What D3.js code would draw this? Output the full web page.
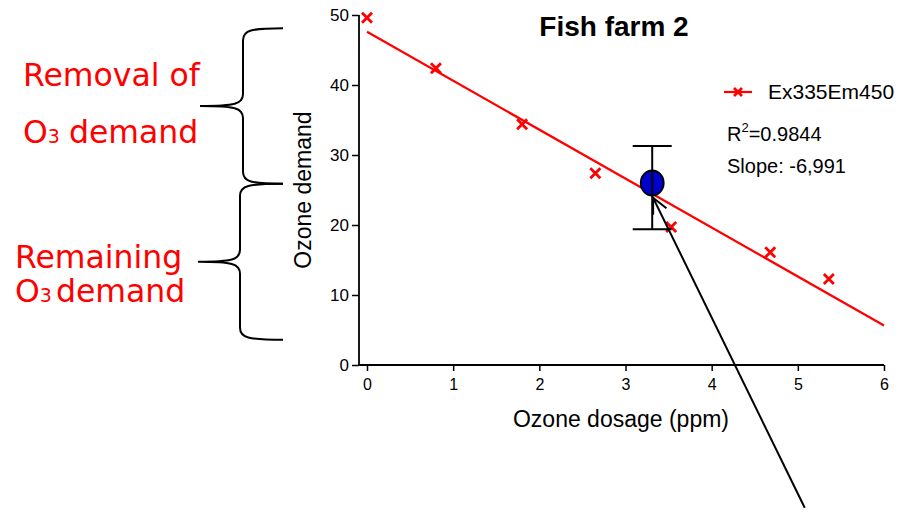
<!DOCTYPE html>
<html>
<head>
<meta charset="utf-8">
<script src="https://cdn.jsdelivr.net/npm/d3@7"></script>
<style>
  body { margin: 0; background: #fff; }
  svg { display: block; }
</style>
</head>
<body>
<div class="chart"></div>
<script>
// measured points (Ex335Em450)
var dosage = [0, 0.8, 1.8, 2.65, 3.53, 4.68, 5.36];
var demand = [49.6, 42.4, 34.4, 27.4, 19.7, 16.1, 12.3];
// linear fit
var fitIntercept = 47.6;
var fitSlope = -6.991;
var fitRange = [0, 6];
// highlighted point with error bar
var markDose = 3.31;
var markDemand = 26.0;
var markErr = [19.4, 31.3];
// arrow (data units)
var arrowFrom = [5.08, -20.4];
var arrowTo = [3.32, 23.9];
// braces (data units of ozone demand)
var braceRanges = [[48.1, 25.9], [25.9, 3.6]];
var xTicks = [0, 1, 2, 3, 4, 5, 6];
var yTicks = [0, 10, 20, 30, 40, 50];
var legendLabel = "Ex335Em450";
var r2Text = "0.9844";
var slopeText = "Slope: -6,991";

var width = 907, height = 512;
var red = "#ff0000";
var font = "'Liberation Sans', Arial, sans-serif";

var svg = d3.select(".chart").append("svg")
  .attr("width", width).attr("height", height);
svg.append("rect").attr("width", width).attr("height", height).attr("fill", "#fff");

var xScale = d3.scaleLinear().domain([0, 6]).range([367, 884]);
var yScale = d3.scaleLinear().domain([0, 50]).range([365, 15]);
var axisX0 = 359;

// axes
var gy = svg.append("g")
  .attr("transform", "translate(" + axisX0 + ",0)")
  .call(d3.axisLeft(yScale).tickValues(yTicks).tickFormat(d3.format("d"))
    .tickSize(7).tickPadding(3).tickSizeOuter(0));
var gx = svg.append("g")
  .attr("transform", "translate(0," + yScale(0) + ")")
  .call(d3.axisBottom(xScale).tickValues(xTicks).tickFormat(d3.format("d"))
    .tickSize(6).tickPadding(8).tickSizeOuter(0));
[gx, gy].forEach(function (g) {
  g.select(".domain").remove();
  g.selectAll("line").attr("stroke", "#000").attr("stroke-width", 1.5);
  g.selectAll("text").attr("fill", "#000").style("font-family", font);
});
gy.selectAll("text").style("font-size", "17px");
gx.selectAll("text").style("font-size", "16px");

svg.append("line")
  .attr("x1", axisX0).attr("x2", axisX0)
  .attr("y1", yScale(0)).attr("y2", yScale(50))
  .attr("stroke", "#000").attr("stroke-width", 1.8);
svg.append("line")
  .attr("x1", axisX0).attr("x2", xScale(6))
  .attr("y1", yScale(0)).attr("y2", yScale(0))
  .attr("stroke", "#000").attr("stroke-width", 1.8);

// fit line
svg.append("line")
  .attr("x1", xScale(fitRange[0])).attr("y1", yScale(fitIntercept + fitSlope * fitRange[0]))
  .attr("x2", xScale(fitRange[1])).attr("y2", yScale(fitIntercept + fitSlope * fitRange[1]))
  .attr("stroke", red).attr("stroke-width", 2.2);

// x markers
function cross(sel, s) {
  sel.append("path")
    .attr("d", "M" + (-s) + "," + (-s) + "L" + s + "," + s + "M" + (-s) + "," + s + "L" + s + "," + (-s))
    .attr("stroke", red).attr("stroke-width", 2.8).attr("fill", "none");
}
var pts = svg.selectAll(".pt").data(dosage.map(function (d, i) { return [d, demand[i]]; }))
  .enter().append("g").attr("class", "pt")
  .attr("transform", function (d) { return "translate(" + xScale(d[0]) + "," + yScale(d[1]) + ")"; });
pts.each(function () { cross(d3.select(this), 5); });

// highlighted point
svg.append("ellipse")
  .attr("cx", xScale(markDose)).attr("cy", yScale(markDemand))
  .attr("rx", 11.5).attr("ry", 12.5)
  .attr("fill", "#0000cc").attr("stroke", "#000").attr("stroke-width", 1.8);
svg.append("line")
  .attr("x1", xScale(markDose)).attr("x2", xScale(markDose))
  .attr("y1", yScale(markErr[0])).attr("y2", yScale(markErr[1]))
  .attr("stroke", "#000").attr("stroke-width", 2);
markErr.forEach(function (v) {
  svg.append("line")
    .attr("x1", xScale(markDose) - 19.5).attr("x2", xScale(markDose) + 19.5)
    .attr("y1", yScale(v)).attr("y2", yScale(v))
    .attr("stroke", "#000").attr("stroke-width", 2);
});

// arrow
var ax1 = xScale(arrowFrom[0]), ay1 = yScale(arrowFrom[1]);
var ax2 = xScale(arrowTo[0]), ay2 = yScale(arrowTo[1]);
svg.append("line")
  .attr("x1", ax1).attr("y1", ay1).attr("x2", ax2).attr("y2", ay2)
  .attr("stroke", "#000").attr("stroke-width", 2);
var ang = Math.atan2(ay1 - ay2, ax1 - ax2);
var headLen = 17, spread = 0.45;
svg.append("path")
  .attr("d", "M" + (ax2 + headLen * Math.cos(ang - spread)) + "," + (ay2 + headLen * Math.sin(ang - spread)) +
    "L" + ax2 + "," + ay2 +
    "L" + (ax2 + headLen * Math.cos(ang + spread)) + "," + (ay2 + headLen * Math.sin(ang + spread)))
  .attr("stroke", "#000").attr("stroke-width", 2).attr("fill", "none");

// title
svg.append("text").attr("x", 614).attr("y", 36)
  .attr("text-anchor", "middle")
  .style("font-family", font).style("font-size", "28px").style("font-weight", "bold")
  .text("Fish farm 2");

// axis titles
svg.append("text").attr("x", 621).attr("y", 427)
  .attr("text-anchor", "middle")
  .style("font-family", font).style("font-size", "23px")
  .text("Ozone dosage (ppm)");
svg.append("text")
  .attr("transform", "translate(311," + 190 + ") rotate(-90)")
  .attr("text-anchor", "middle")
  .style("font-family", font).style("font-size", "23px")
  .text("Ozone demand");

// legend
var lg = svg.append("g").attr("transform", "translate(724,92)");
lg.append("line").attr("x1", 0).attr("x2", 28).attr("y1", 0).attr("y2", 0)
  .attr("stroke", red).attr("stroke-width", 2.2);
var lm = lg.append("g").attr("transform", "translate(14,0)");
cross(lm, 4);
lg.append("text").attr("x", 44).attr("y", 7)
  .style("font-family", font).style("font-size", "21px")
  .text(legendLabel);
var r2 = svg.append("text").attr("x", 727).attr("y", 141)
  .style("font-family", font).style("font-size", "20px");
r2.append("tspan").text("R");
r2.append("tspan").attr("dy", -9).style("font-size", "13px").text("2");
r2.append("tspan").attr("dy", 9).text("=" + r2Text);
svg.append("text").attr("x", 727).attr("y", 173)
  .style("font-family", font).style("font-size", "20px")
  .text(slopeText);

// braces
function bracePath(xEnd, xBack, xTip, y0, y1) {
  var ym = (y0 + y1) / 2, r = 12;
  return "M" + xEnd + "," + y0 +
    "C" + (xBack + 8) + "," + y0 + " " + xBack + "," + (y0 + 2) + " " + xBack + "," + (y0 + r) +
    "L" + xBack + "," + (ym - r) +
    "C" + xBack + "," + (ym - 2) + " " + (xBack - 8) + "," + ym + " " + xTip + "," + ym +
    "C" + (xBack - 8) + "," + ym + " " + xBack + "," + (ym + 2) + " " + xBack + "," + (ym + r) +
    "L" + xBack + "," + (y1 - r) +
    "C" + xBack + "," + (y1 - 2) + " " + (xBack + 8) + "," + y1 + " " + xEnd + "," + y1;
}
var braceGeom = [{ back: 243, tip: 200 }, { back: 240, tip: 198 }];
braceRanges.forEach(function (b, i) {
  svg.append("path")
    .attr("d", bracePath(283, braceGeom[i].back, braceGeom[i].tip, yScale(b[0]), yScale(b[1])))
    .attr("fill", "none").attr("stroke", "#000").attr("stroke-width", 2);
});

// brace labels
var annoFont = "'DejaVu Sans', Verdana, sans-serif";
function o3Line(x, y, gap) {
  var t = svg.append("text").attr("x", x).attr("y", y)
    .attr("fill", red).style("font-family", annoFont).style("font-size", "31.5px");
  t.append("tspan").text("O");
  t.append("tspan").style("font-size", "19px").text("3");
  t.append("tspan").attr("dx", gap).text("demand");
}
svg.append("text").attr("x", 23).attr("y", 86)
  .attr("fill", red).style("font-family", annoFont).style("font-size", "31.5px")
  .text("Removal of");
o3Line(23, 143, 9);
svg.append("text").attr("x", 15).attr("y", 268)
  .attr("fill", red).style("font-family", annoFont).style("font-size", "31.5px")
  .text("Remaining");
o3Line(15, 302, 4);
</script>
</body>
</html>
